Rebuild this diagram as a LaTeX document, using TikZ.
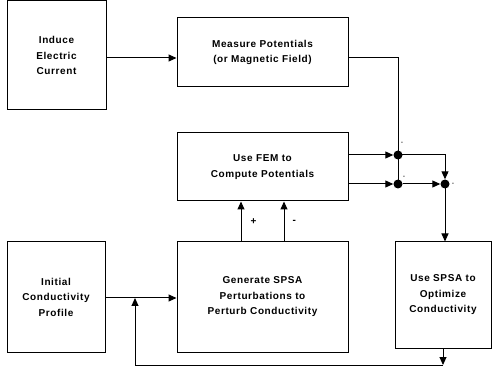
\documentclass[tikz,border=0pt]{standalone}
\usepackage{fontspec}
\setmainfont[LetterSpace=6]{Liberation Sans}
\usetikzlibrary{arrows.meta,calc}
\begin{document}
\begin{tikzpicture}[x=1pt,y=-1pt,
  box/.style={draw,line width=1pt,align=center,inner sep=0pt,
    font=\fontsize{10}{15.5}\selectfont\bfseries},
  arr/.style={line width=1pt,-{Triangle[length=8pt,width=7pt]}},
  ln/.style={line width=1pt},
  dot/.style={circle,fill,inner sep=0pt,minimum size=9pt},
  sgn/.style={font=\fontsize{7}{8}\selectfont,inner sep=0pt},
  pm/.style={font=\fontsize{10}{10}\selectfont\bfseries,inner sep=0pt}]
\useasboundingbox (0,0) rectangle (493,374);
\node[box,minimum width=99pt,minimum height=109pt] (A) at (56.5,55.5) {Induce\\Electric\\Current};
\node[box,minimum width=171pt,minimum height=69pt] (B) at (262.5,52.5) {Measure Potentials\\(or Magnetic Field)};
\node[box,minimum width=171pt,minimum height=68pt] (F) at (262.5,167) {Use FEM to\\Compute Potentials};
\node[box,minimum width=171pt,minimum height=110pt] (G) at (262.5,297) {Generate SPSA\\Perturbations to\\Perturb Conductivity};
\node[box,minimum width=98pt,minimum height=110pt] (I) at (56,297) {Initial\\Conductivity\\Profile};
\node[box,minimum width=96pt,minimum height=106pt] (S) at (443,295) {Use SPSA to\\Optimize\\Conductivity};
\node[dot] (J1) at (398,155) {};
\node[dot] (J2) at (398,184) {};
\node[dot] (J3) at (445,184) {};
\coordinate (ya) at (0,58);
\coordinate (yb) at (0,298);
\coordinate (c1) at (398,58);
\coordinate (c2) at (445,155);
\coordinate (fb) at (443,365);
\coordinate (fc) at (135,365);
\coordinate (gx1) at (241,0);
\coordinate (gx2) at (284,0);
% arrows
\draw[arr] (A.east |- ya) -- (B.west |- ya);
\draw[ln] (B.east |- ya) -- (c1) -- (J1.center);
\draw[ln] (J1.center) -- (J2.center);
\draw[arr] (F.east |- J1) -- (J1.west);
\draw[arr] (F.east |- J2) -- (J2.west);
\draw[arr] (J1.center) -- (c2) -- (J3.north);
\draw[arr] (J2.east) -- (J3.west);
\draw[arr] (J3.center) -- (J3 |- S.north);
\draw[arr] (gx1 |- G.north) -- (gx1 |- F.south) node[pos=0.5,right=9pt,pm] {+};
\draw[arr] (gx2 |- G.north) -- (gx2 |- F.south) node[pos=0.5,right=8pt,pm] {-};
\draw[arr] (I.east |- yb) -- (G.west |- yb);
\draw[arr] (S.south) -- (fb);
\draw[arr] (fb) -- (fc) -- (fc |- yb);
% signs
\node[sgn] at (402,143) {-};
\node[sgn] at (404,177) {-};
\node[sgn] at (453,184) {-};
\end{tikzpicture}
\end{document}
